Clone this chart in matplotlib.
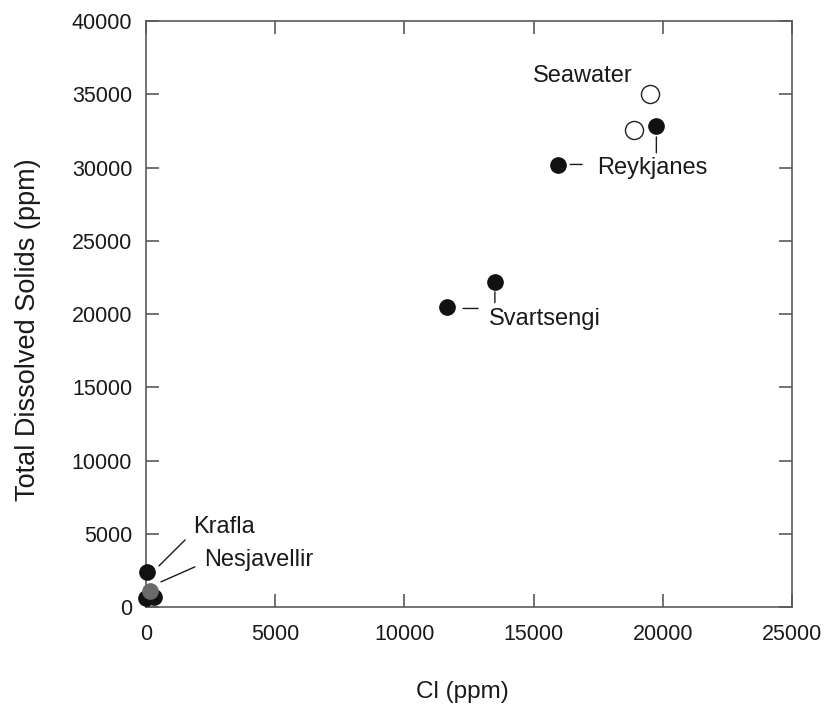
import matplotlib
matplotlib.use("Agg")
import matplotlib.pyplot as plt
from matplotlib.text import OffsetFrom

plt.rcParams["font.family"] = ["Liberation Sans", "DejaVu Sans"]

# Data (Cl ppm, TDS ppm)
seawater_cl = [19500, 18900]
seawater_tds = [35000, 32600]

reykjanes_cl = [19750, 15950]
reykjanes_tds = [32850, 30150]

svartsengi_cl = [13500, 11650]
svartsengi_tds = [22200, 20450]

krafla_cl = [40]
krafla_tds = [2400]

nesjavellir_cl = [0, 300]
nesjavellir_tds = [600, 700]
nesjavellir_gray_cl = [150]
nesjavellir_gray_tds = [1100]

xticks = [0, 5000, 10000, 15000, 20000, 25000]
yticks = [0, 5000, 10000, 15000, 20000, 25000, 30000, 35000, 40000]

spine_col = "#5a5a5a"
text_col = "#1a1a1a"

fig = plt.figure(figsize=(8.24, 7.05), dpi=100)
ax = fig.add_axes([0.1772, 0.139, 0.784, 0.831])

pt = dict(clip_on=False, ms=11)
ax.plot(nesjavellir_cl, nesjavellir_tds, "o", color="#111111", zorder=3, **pt)
ax.plot(nesjavellir_gray_cl, nesjavellir_gray_tds, "o", color="#6a6a6a", zorder=4, **pt)
ax.plot(krafla_cl, krafla_tds, "o", color="#111111", zorder=3, **pt)
ax.plot(svartsengi_cl, svartsengi_tds, "o", color="#111111", zorder=3, **pt)
ax.plot(reykjanes_cl, reykjanes_tds, "o", color="#111111", zorder=3, **pt)
ax.plot(seawater_cl, seawater_tds, "o", mfc="white", mec="#222222", mew=1.0,
        ms=13, zorder=3, clip_on=False)

ax.set_xlim(0, 25000)
ax.set_ylim(0, 40000)
ax.set_xticks(xticks)
ax.set_yticks(yticks)
ax.tick_params(direction="in", length=9.5, width=1.2, color=spine_col,
               top=True, right=True, labelsize=15.5, labelcolor=text_col)
ax.tick_params(axis="x", pad=12)
ax.tick_params(axis="y", pad=10)
for s in ax.spines.values():
    s.set_color(spine_col)
    s.set_linewidth(1.2)

ax.set_xlabel("Cl (ppm)", fontsize=17.5, color=text_col, labelpad=26, x=0.49)
ax.set_ylabel("Total Dissolved Solids (ppm)", fontsize=19.5, color=text_col,
              labelpad=22, y=0.474)


def label(x, y, txt, dx, dy, ha="left"):
    ax.annotate(txt, xy=(x, y), xytext=(dx, dy), textcoords="offset points",
                ha=ha, va="center", fontsize=17, color=text_col)


def leader(x, y, p1, p2):
    ref = OffsetFrom(ax.transData, (x, y), unit="points")
    ax.annotate("", xy=p1, xycoords=ref, xytext=p2, textcoords=ref,
                arrowprops=dict(arrowstyle="-", color=text_col, lw=1.0,
                                shrinkA=0, shrinkB=0))


label(krafla_cl[0], krafla_tds[0], "Krafla", 33, 32)
leader(krafla_cl[0], krafla_tds[0], (8.6, 4.3), (27.4, 23))

label(nesjavellir_gray_cl[0], nesjavellir_gray_tds[0], "Nesjavellir", 39, 22)
leader(nesjavellir_gray_cl[0], nesjavellir_gray_tds[0], (8, 6.5), (32.4, 17.3))

label(seawater_cl[0], seawater_tds[0], "Seawater", -12.5, 13, ha="right")

label(reykjanes_cl[1], reykjanes_tds[1], "Reykjanes", 28, -2)
leader(reykjanes_cl[1], reykjanes_tds[1], (8.6, 0.7), (17.3, 0.7))
leader(reykjanes_cl[0], reykjanes_tds[0], (0, -8), (0, -19.4))

label(svartsengi_cl[1], svartsengi_tds[1], "Svartsengi", 30, -8)
leader(svartsengi_cl[1], svartsengi_tds[1], (11.5, -0.7), (22.3, -0.7))
leader(svartsengi_cl[0], svartsengi_tds[0], (0, -7.2), (0, -15))

fig.savefig("out.png", dpi=100)
